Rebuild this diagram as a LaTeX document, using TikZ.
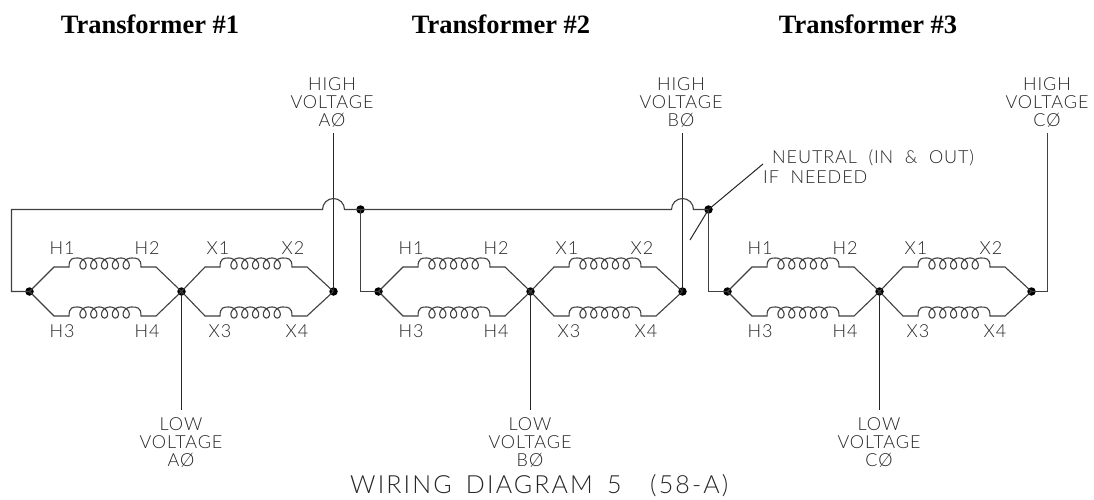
\documentclass[tikz,border=0pt]{standalone}
\usepackage{fontspec}
\setmainfont{Liberation Serif}
\newfontfamily\cadfont[LetterSpace=5,WordSpace=2]{Lato Light}
\newfontfamily\cadwide[LetterSpace=8.5,WordSpace=1.6]{Lato Light}
\newcommand{\coil}[2]{%
  .. controls (#1,#2-9) and (#1+4,#2-9) .. (#1+8.6,#2-9)
  -- plot[domain=180:1980,samples=200] ({#1+3.2+0.03*\x-5.5*sin(\x)},{#2-3.5+5.5*cos(\x)})
  .. controls (#1+68,#2-9) and (#1+72,#2-9) .. (#1+72,#2)}
\tikzset{
  x=1pt,y=-1pt,
  wire/.style={line width=1.1pt,black!75},
  thin wire/.style={line width=1pt,black!85},
  junction/.style={circle,fill=black,inner sep=0pt,minimum size=8.5pt},
  title/.style={font=\fontsize{26.5}{26.5}\selectfont\bfseries,inner sep=0pt},
  cad/.style={font=\fontsize{18}{18}\cadfont,inner sep=0pt,align=center,text=black!85},
  cadleft/.style={font=\fontsize{18}{18}\cadfont,inner sep=0pt,anchor=west,align=left,text=black!85},
}
\begin{document}
\begin{tikzpicture}
\useasboundingbox (0,0) rectangle (1094,500);
\fill[white] (0,0) rectangle (1094,500);
\foreach \n/\dx/\ph/\ttl/\hx in {1/0/A/150/332,2/349/B/501/681,3/698/C/868/1047}{
  \node[title] (T\n) at (\ttl,24) {Transformer \#\n};
  \node[cad] (H\n) at (\hx,102.5) {HIGH\\VOLTAGE\\\ph Ø};
  \node[cad] (Lo\n) at (\dx+181,442.5) {LOW\\VOLTAGE\\\ph Ø};
  \node[junction] (L\n) at (\dx+29.5,291.5) {};
  \node[junction] (C\n) at (\dx+181.5,291.5) {};
  \node[junction] (R\n) at (\dx+333.5,291.5) {};
  \foreach \yy in {267,316}{
    \draw[wire] (L\n.center) -- (\dx+54,\yy) -- (\dx+69,\yy) \coil{\dx+69}{\yy} -- (\dx+156,\yy) -- (C\n.center);
    \draw[wire] (C\n.center) -- (\dx+205,\yy) -- (\dx+220,\yy) \coil{\dx+220}{\yy} -- (\dx+307,\yy) -- (R\n.center);
  }
  \draw[thin wire] (C\n.center) -- (\dx+181.5,410);
  \node[cad] (a\n) at (\dx+62,248) {H1};
  \node[cad] (b\n) at (\dx+147,248) {H2};
  \node[cad] (c\n) at (\dx+218,248) {X1};
  \node[cad] (d\n) at (\dx+293,248) {X2};
  \node[cad] (e\n) at (\dx+62,331) {H3};
  \node[cad] (f\n) at (\dx+147,331) {H4};
  \node[cad] (g\n) at (\dx+220,331) {X3};
  \node[cad] (h\n) at (\dx+297,331) {X4};
}
\node[junction] (N1) at (360.5,209.5) {};
\node[junction] (N2) at (708.5,209.5) {};
\coordinate (HC1) at (333.5,133);
\coordinate (HC2) at (682.5,133);
\coordinate (HC3) at (1047.5,133);
\coordinate (LW) at (11.5,209.5);
\coordinate (LB) at (11.5,291.5);
\coordinate (N1B) at (360.5,291.5);
\coordinate (N2B) at (708.5,291.5);
\coordinate (CB) at (1047.5,291.5);
\draw[thin wire] (HC1) -- (R1.center);
\draw[thin wire] (HC2) -- (R2.center);
\draw[wire] (HC3) -- (CB) -- (R3.center);
\draw[wire] (L1.center) -- (LB) -- (LW) -- (322.5,209.5) arc[start angle=180,end angle=360,radius=11] -- (N1.center);
\draw[wire] (N1.center) -- (671.5,209.5) arc[start angle=180,end angle=360,radius=11] -- (N2.center);
\draw[wire] (N1.center) -- (N1B) -- (L2.center);
\draw[wire] (N2.center) -- (N2B) -- (L3.center);
\coordinate (LdA) at (763,164);
\coordinate (LdB) at (690,240);
\draw[thin wire] (LdA) -- (N2.center) -- (LdB);
\node[cadleft] (NT) at (772,158) {NEUTRAL (IN \& OUT)};
\node[cadleft] (NI) at (763,177) {IF NEEDED};
\node[font=\fontsize{25}{25}\cadwide,inner sep=0pt,text=black!85,anchor=west] (WD) at (350,486) {WIRING DIAGRAM 5 \ (58-A)};
\end{tikzpicture}
\end{document}
